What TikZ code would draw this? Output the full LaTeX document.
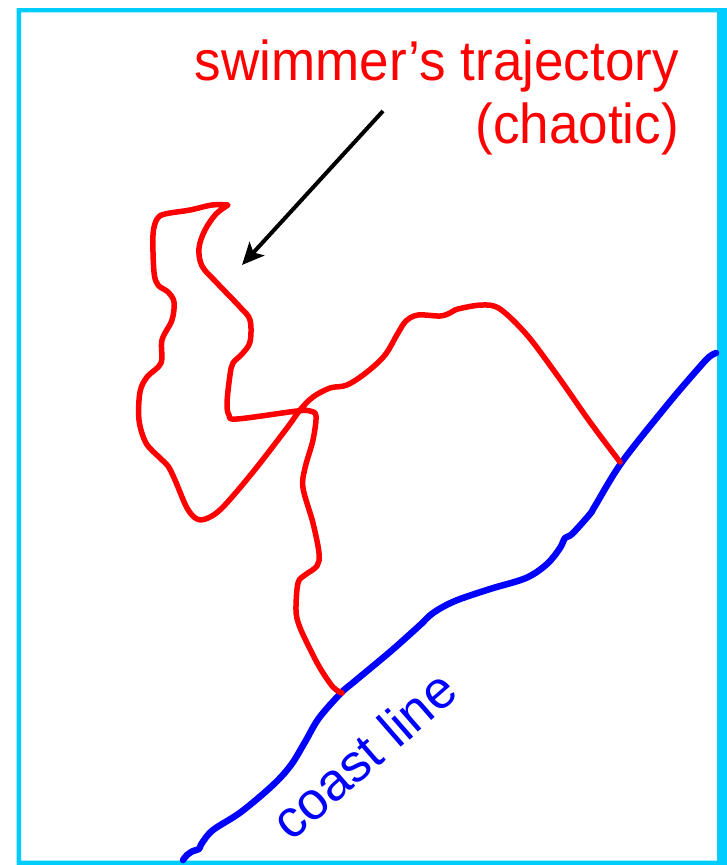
\documentclass[tikz,border=0pt]{standalone}
\usepackage{fontspec}
\setmainfont{Liberation Sans}
\usetikzlibrary{arrows.meta}
\definecolor{framecyan}{RGB}{0,204,255}
\definecolor{trajred}{RGB}{255,0,0}
\definecolor{coastblue}{RGB}{0,0,255}
\begin{document}
\begin{tikzpicture}[x=1pt,y=-1pt,
 traj/.style={draw=trajred,line width=5.5pt,line cap=round,line join=round},
 coast/.style={draw=coastblue,line width=6.5pt,line cap=round,line join=round},
 pointer/.style={draw=black,line width=4pt,-{Stealth[length=22pt,width=20pt,inset=5pt]}},
 redlabel/.style={text=trajred,font=\fontsize{53}{63}\selectfont,inner sep=0pt,yscale=1.06},
 bluelabel/.style={text=coastblue,font=\fontsize{53}{63}\selectfont,inner sep=0pt}]
\useasboundingbox (0,0) rectangle (727,865);
% frame
\fill[framecyan,even odd rule] (16.7,8.1) rectangle (727,865) (21,12.4) rectangle (717,860.7);
% coast line
\draw[coast] plot[smooth,tension=0.55] coordinates {
 (183,860) (187,855) (193,851) (199,849) (202,843) (213,830) (241,812) (273,785)
 (291,765) (305,742) (319,718) (341,693) (355,681) (391,651) (419,626) (433,613)
 (455,601) (490,589) (526,578) (547,564) (560,548) (565,538) (572,534) (590,514)
 (595,506) (622,462) (668,404) (697,370) (709,357) (716,353)};
% swimmer's trajectory
\coordinate (tip) at (228,205);
\draw[traj] plot[smooth,tension=0.55] coordinates {
 (620,462) (590,422) (557,375) (527,335) (500,309) (482,305) (458,309) (450,313)
 (440,316) (418,315) (406,321) (398,333) (385,355) (367,372) (347,385) (330,388)
 (313,397) (300,410) (287,428) (253,472) (223,507) (208,518) (197,519) (187,508)
 (175,480) (168,466) (160,458) (146,443) (139,420) (140,392) (147,377) (161,363)
 (162,340) (172,320) (174,302) (168,292) (158,285) (154,272) (153,235) (157,219)
 (165,214) (190,210) (212,205) (228,205)}
 -- plot[smooth,tension=0.55] coordinates {
 (228,205) (216,214) (205,230) (199,248) (202,266) (217,283) (240,307) (250,320)
 (250,342) (242,354) (233,363) (230,375) (227,403) (229,415) (237,419) (297,411)
 (310,411) (316,416) (313,440) (305,468) (303,488) (313,523) (319,553) (317,566)
 (305,575) (298,583) (296,610) (299,625) (308,645) (320,668) (333,687) (342,693)};
% labels
\node[redlabel,anchor=base east] (title1) at (679,80) {swimmer’s trajectory};
\node[redlabel,anchor=base east] (title2) at (679,143) {(chaotic)};
\node[bluelabel,anchor=base,rotate=41] (coastlabel) at (376,769) {coast line};
% arrow
\coordinate (arrowtail) at (383,111);
\coordinate (arrowhead) at (242,265);
\draw[pointer] (arrowtail) -- (arrowhead);
\end{tikzpicture}
\end{document}
